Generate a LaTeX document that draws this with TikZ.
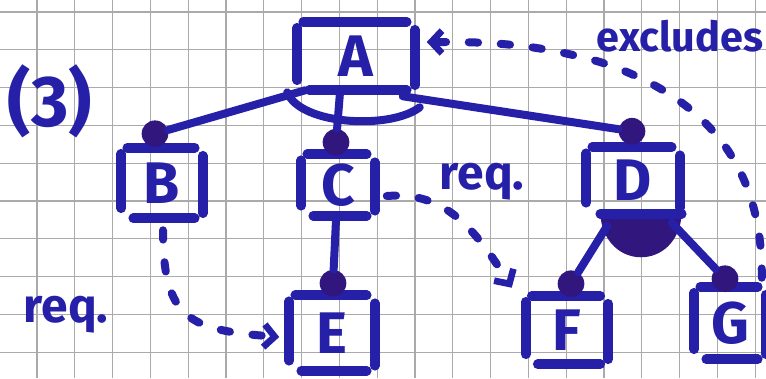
\documentclass[tikz,border=0pt]{standalone}
\usepackage{fontspec}
\setmainfont{Fira Sans}
\usetikzlibrary{calc,arrows.meta}
\definecolor{ink}{RGB}{38,32,168}
\definecolor{dotink}{RGB}{48,22,125}
\definecolor{gridc}{RGB}{170,170,170}
\tikzset{
  stroke/.style={draw=ink, line width=7.2pt, line cap=round},
  conn/.style={draw=ink, line width=6pt, line cap=round},
  dashl/.style={draw=ink, line width=6pt, line cap=round, dash pattern=on 7pt off 17pt},
  tipb/.style={-{Straight Barb[length=8pt,width=17pt,line width=5pt]}},
  gridline/.style={draw=gridc, line width=0.8pt},
  letter/.style={font=\fontsize{44}{48}\selectfont\bfseries, text=ink, inner sep=0pt},
  bx/.style 2 args={minimum width=#1*0.75pt, minimum height=#2*0.75pt},
  dot/.style={circle, fill=dotink, minimum size=20pt, inner sep=0pt},
  lbl/.style={font=\fontsize{36}{40}\selectfont\bfseries, text=ink, inner sep=0pt},
}
\newcommand\handsides[1]{%
  \draw[stroke] ($(#1.north west)+(6,0)$) -- ($(#1.north east)+(-8,0)$);
  \draw[stroke] ($(#1.north west)+(0,6)$) -- ($(#1.south west)+(0,-10)$);
  \draw[stroke] ($(#1.north east)+(0,8)$) -- ($(#1.south east)+(0,-5)$);}
\newcommand\handbottom[1]{%
  \draw[stroke] ($(#1.south west)+(12,0)$) -- ($(#1.south east)+(-8,0)$);}
\begin{document}
\begin{tikzpicture}[x=0.75pt,y=-0.75pt]
\useasboundingbox (0,0) rectangle (766,378);
\fill[white] (0,0) rectangle (766,378);
% grid paper
\foreach \i in {0,...,20} \draw[gridline] ({37.8*\i-0.8},0) -- ({37.8*\i-0.8},378);
\foreach \j in {0,...,9} \draw[gridline] (0,{12+37.8*\j}) -- (766,{12+37.8*\j});

% features
\node[letter,bx={117}{68}] (A) at (356,56) {A};
\node[letter,bx={81}{70}] (B) at (162,183) {B};
\node[letter,bx={73}{61}] (C) at (338,185) {C};
\node[letter,bx={93}{65}] (D) at (633,180) {D};
\node[letter,bx={85}{75}] (E) at (332,333) {E};
\node[letter,bx={82}{68}] (F) at (567,330) {F};
\node[letter,bx={71}{72}] (G) at (730,323) {G};
\foreach \n in {A,B,C,D,E,F,G} {\handsides{\n}}
\foreach \n in {A,B,C,E,F,G} {\handbottom{\n}}

\node[letter,font=\fontsize{54}{58}\selectfont\bfseries] (three) at (50,101) {(3)};

% mandatory dots
\node[dot] (dB) at ($(B.north)+(-7,-14)$) {};
\node[dot] (dC) at ($(C.north)+(-2,-12)$) {};
\node[dot] (dD) at ($(D.north)+(-1,-16)$) {};
\node[dot] (dE) at ($(E.north)+(1,-12)$) {};
\node[dot] (dF) at ($(F.north)+(4,-12)$) {};
\node[dot] (dG) at ($(G.north)+(-5,-8)$) {};

% tree edges from A
\draw[conn] (dB) -- ($(A.south west)+(8,0)$);
\draw[conn] ($(A.south east)+(-12,6)$) -- (dD);
\draw[conn] ($(A.south)+(-16,2)$) -- (dC);
\coordinate (arcL) at ($(A.south west)+(-10,2)$);
\coordinate (arcR) at ($(A.south east)+(5,17)$);
\draw[conn] (arcL) .. controls (300,125) and (390,130) .. (arcR);

% C -- E
\draw[conn] ($(C.south)+(-2,4)$) -- (dE);

% or-group under D
\coordinate (orL) at ($(D.south west)+(14,1)$);
\coordinate (orR) at ($(D.south east)+(2,1)$);
\fill[dotink] (orL) .. controls +(4,58) and +(-4,58) .. (orR) -- cycle;
\draw[stroke] (orL) -- (orR);
\draw[conn] ($(orL)+(7,12)$) -- (dF);
\draw[conn] ($(orR)+(-10,9)$) -- (dG);

% cross-tree constraints
\draw[dashl,tipb] ($(B.south)+(1,12)$) .. controls (163,320) and (190,330) .. ($(E.west)+(-10,4)$);
\node[lbl] (req1) at (66,315) {req.};

\draw[dashl,tipb] ($(C.east)+(12,11)$) .. controls (440,192) and (470,220) .. ($(F.north west)+(-14,-8)$);
\node[lbl] (req2) at (482,182) {req.};

\draw[dashl,tipb] ($(G.north east)+(-4,-9)$) .. controls (763,160) and (700,95) .. (600,62) .. controls (530,42) and (480,42) .. ($(A.east)+(12,-14)$);
\node[lbl,font=\fontsize{31}{34}\selectfont\bfseries] (excl) at (680,36) {excludes};
\end{tikzpicture}
\end{document}
